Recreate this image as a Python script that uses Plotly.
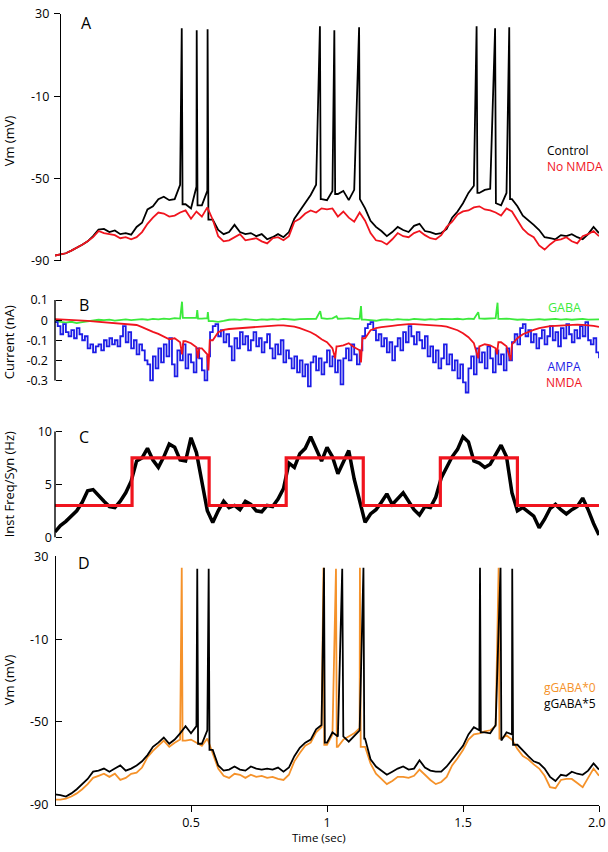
import numpy as np
import plotly.graph_objects as go

W, H = 608, 852
FONT = "Open Sans"

# ---------------- time bases ----------------
DT = 0.02
t_grid = np.round(np.arange(101) * DT, 2)        # 0 .. 2.0 s
t_fine = np.round(np.arange(201) * 0.01, 2)      # 0 .. 2.0 s

# ---------------- Panel A : Vm (mV) ----------------
vm_control = [
    -87.4, -87.0, -86.3, -85.0, -83.8, -82.2, -80.5, -78.0, -74.8, -74.5,
    -76.0, -75.2, -77.0, -76.5, -77.3, -73.5, -71.5, -65.0, -63.5, -60.0,
    -58.8, -60.5, -60.0, -53.0, -62.5, -64.5, -54.0, -63.0, -56.0, -70.0,
    -75.0, -77.0, -76.0, -72.5, -76.0, -77.0, -76.5, -78.0, -77.0, -79.5,
    -78.5, -77.0, -78.5, -76.0, -69.5, -65.5, -62.0, -58.0, -53.0, -60.0,
    -60.5, -56.0, -57.5, -56.0, -60.5, -55.5, -60.0, -64.5, -70.5, -73.5,
    -75.5, -78.0, -76.0, -73.5, -75.0, -76.0, -73.0, -72.0, -75.5, -76.0,
    -77.0, -76.5, -74.5, -69.0, -66.0, -62.0, -57.0, -53.5, -57.0, -55.5,
    -55.0, -62.0, -63.0, -57.0, -60.0, -63.5, -68.0, -70.5, -72.5, -75.0,
    -78.5, -79.0, -79.5, -77.5, -78.0, -77.0, -78.5, -79.5, -77.0, -73.5,
    -76.5]
control_spike_t = [0.466, 0.521, 0.561, 0.974, 1.027, 1.118, 1.550, 1.618, 1.670]
control_spike_v = [23.0, 22.0, 22.5, 24.0, 22.0, 23.5, 24.0, 23.0, 23.5]

vm_no_nmda = [
    -87.4, -87.0, -86.3, -85.0, -83.8, -82.2, -80.5, -78.5, -75.5, -76.5,
    -77.0, -77.5, -79.0, -78.5, -79.5, -78.5, -76.0, -72.0, -69.0, -66.5,
    -67.0, -68.5, -68.0, -66.5, -65.5, -69.5, -66.0, -68.5, -64.0, -70.0,
    -78.0, -80.5, -80.0, -78.5, -77.0, -80.0, -79.5, -79.0, -80.5, -81.5,
    -79.0, -78.5, -80.0, -78.0, -71.0, -69.5, -67.0, -65.5, -66.5, -64.5,
    -65.0, -64.5, -68.5, -66.0, -69.0, -71.0, -66.5, -70.5, -76.5, -80.0,
    -80.5, -82.0, -79.5, -76.5, -78.0, -78.5, -76.5, -75.5, -77.5, -79.0,
    -79.5, -77.5, -73.5, -71.0, -67.5, -66.0, -65.5, -64.0, -63.5, -65.0,
    -65.5, -66.5, -68.0, -64.5, -66.0, -70.5, -74.5, -77.0, -78.5, -82.5,
    -84.5, -82.0, -80.0, -79.5, -78.5, -80.5, -81.5, -78.0, -77.0, -75.5,
    -78.0]

# ---------------- Panel B : currents (nA) ----------------
gaba = [
    -0.005, -0.010, -0.012, -0.008, -0.015, -0.010, -0.005, 0.000, 0.002, 0.000,
    0.003, -0.002, 0.002, 0.004, 0.000, 0.003, 0.005, 0.002, 0.006, 0.004,
    0.008, 0.005, 0.010, 0.008, 0.012, 0.009, 0.011, 0.008, 0.010, -0.005,
    -0.008, -0.004, 0.002, 0.004, 0.001, 0.005, 0.003, 0.000, 0.004, 0.002,
    0.005, 0.003, 0.006, 0.004, 0.002, 0.005, 0.006, 0.008, 0.007, 0.010,
    0.006, 0.009, 0.007, 0.008, 0.010, 0.006, 0.008, 0.003, 0.000, -0.003,
    0.002, 0.004, 0.001, 0.005, 0.003, 0.002, 0.006, 0.004, 0.002, 0.005,
    0.003, 0.006, 0.004, 0.005, 0.007, 0.004, 0.008, 0.006, 0.009, 0.007,
    0.008, 0.010, 0.006, 0.008, 0.005, 0.002, 0.004, 0.001, 0.003, 0.005,
    0.002, 0.004, 0.006, 0.003, 0.005, 0.002, 0.004, 0.006, 0.003, 0.005,
    0.004]
gaba_peak_t = [0.467, 0.523, 0.562, 0.975, 1.035, 1.125, 1.556, 1.627]
gaba_peak_v = [0.092, 0.050, 0.040, 0.045, 0.020, 0.070, 0.040, 0.087]

ampa = [
    -0.01, -0.03, -0.07, -0.02, -0.06, -0.08, -0.05, -0.09, -0.04, -0.07,
    -0.10, -0.08, -0.14, -0.12, -0.16, -0.13, -0.12, -0.15, -0.10, -0.13,
    -0.09, -0.12, -0.10, -0.13, -0.08, -0.03, -0.11, -0.06, -0.14, -0.10,
    -0.17, -0.12, -0.15, -0.20, -0.22, -0.30, -0.18, -0.24, -0.14, -0.21,
    -0.12, -0.18, -0.09, -0.22, -0.28, -0.15, -0.20, -0.12, -0.24, -0.17,
    -0.21, -0.26, -0.14, -0.19, -0.25, -0.30, -0.18, -0.06, -0.03, -0.02,
    -0.08, -0.05, -0.11, -0.07, -0.13, -0.20, -0.09, -0.14, -0.06, -0.12,
    -0.08, -0.15, -0.10, -0.06, -0.13, -0.09, -0.16, -0.11, -0.07, -0.14,
    -0.19, -0.12, -0.17, -0.10, -0.21, -0.15, -0.19, -0.24, -0.18, -0.26,
    -0.20, -0.28, -0.22, -0.33, -0.21, -0.18, -0.25, -0.19, -0.27, -0.21,
    -0.15, -0.23, -0.18, -0.26, -0.20, -0.32, -0.19, -0.14, -0.20, -0.12,
    -0.17, -0.22, -0.15, -0.08, -0.04, -0.02, -0.01, -0.05, -0.10, -0.07,
    -0.13, -0.09, -0.16, -0.11, -0.20, -0.13, -0.09, -0.15, -0.06, -0.11,
    -0.03, -0.08, -0.12, -0.06, -0.10, -0.14, -0.08, -0.18, -0.13, -0.21,
    -0.15, -0.24, -0.19, -0.12, -0.22, -0.17, -0.25, -0.20, -0.29, -0.22,
    -0.31, -0.36, -0.24, -0.18, -0.27, -0.14, -0.21, -0.16, -0.24, -0.13,
    -0.19, -0.26, -0.15, -0.22, -0.17, -0.25, -0.14, -0.20, -0.11, -0.07,
    -0.12, -0.04, -0.02, -0.08, -0.05, -0.11, -0.07, -0.14, -0.09, -0.05,
    -0.12, -0.08, -0.03, -0.10, -0.06, -0.13, -0.04, -0.09, -0.02, -0.07,
    -0.11, -0.05, -0.09, -0.03, -0.08, -0.01, -0.10, -0.12, -0.09, -0.16,
    -0.19]

nmda = [
    0.005, 0.004, 0.003, 0.002, 0.000, -0.002, -0.004, -0.006, -0.008, -0.010,
    -0.012, -0.014, -0.016, -0.018, -0.020, -0.024, -0.035, -0.048, -0.058, -0.068,
    -0.082, -0.095, -0.090, -0.110, -0.105, -0.115, -0.135, -0.140, -0.170, -0.100,
    -0.060, -0.048, -0.044, -0.042, -0.040, -0.038, -0.036, -0.034, -0.030, -0.028,
    -0.026, -0.026, -0.026, -0.028, -0.032, -0.040, -0.050, -0.060, -0.075, -0.095,
    -0.110, -0.140, -0.130, -0.125, -0.115, -0.135, -0.150, -0.090, -0.050, -0.040,
    -0.035, -0.030, -0.028, -0.025, -0.022, -0.020, -0.020, -0.021, -0.022, -0.023,
    -0.025, -0.028, -0.032, -0.040, -0.050, -0.065, -0.085, -0.115, -0.130, -0.120,
    -0.125, -0.140, -0.110, -0.130, -0.120, -0.090, -0.070, -0.058, -0.048, -0.040,
    -0.034, -0.030, -0.028, -0.026, -0.024, -0.022, -0.022, -0.023, -0.024, -0.028,
    -0.034]
nmda_peak_t = [0.467, 0.525, 0.564, 1.030, 1.125, 1.556, 1.625, 1.675]
nmda_peak_v = [-0.17, -0.19, -0.25, -0.19, -0.21, -0.19, -0.17, -0.20]

# ---------------- Panel C : Inst Freq / Syn (Hz) ----------------
inst_freq = [
    0.5, 1.1, 1.5, 2.0, 2.5, 3.3, 4.4, 4.5, 3.9, 3.4,
    2.9, 2.8, 3.4, 4.2, 5.3, 7.2, 7.5, 8.4, 7.3, 6.6,
    7.6, 8.8, 8.5, 7.3, 7.2, 9.4, 8.0, 5.3, 2.5, 1.4,
    2.5, 3.4, 2.8, 3.0, 2.6, 3.4, 3.1, 2.5, 2.4, 3.0,
    2.9, 3.6, 4.6, 7.0, 6.6, 7.9, 8.4, 9.5, 8.4, 7.2,
    8.5, 7.6, 6.0, 7.2, 8.2, 5.5, 3.5, 1.4, 2.2, 2.6,
    3.3, 4.1, 3.1, 3.6, 4.2, 3.4, 2.6, 2.1, 2.9, 2.8,
    3.8, 5.6, 6.6, 7.6, 8.3, 9.5, 9.0, 7.2, 7.0, 6.6,
    6.9, 7.8, 8.7, 7.6, 4.2, 2.5, 2.8, 2.4, 2.0, 0.9,
    1.7, 2.7, 3.1, 2.6, 2.2, 2.6, 2.9, 3.7, 2.6, 1.3,
    0.2]
syn_step_t = [0.0, 0.2833, 0.5667, 0.85, 1.1333, 1.4167, 1.70, 2.0]
syn_step_v = [3.0, 7.5, 3.0, 7.5, 3.0, 7.5, 3.0, 3.0]

# ---------------- Panel D : Vm (mV) ----------------
vm_gaba5 = [
    -85.0, -85.3, -86.0, -84.5, -82.5, -80.0, -77.5, -74.0, -73.5, -72.5,
    -74.0, -72.5, -71.0, -73.5, -72.5, -71.0, -69.0, -66.0, -62.0, -60.0,
    -57.5, -60.5, -58.5, -55.5, -52.0, -55.5, -52.0, -60.5, -54.0, -63.5,
    -71.0, -73.5, -73.0, -71.5, -73.0, -73.5, -71.5, -72.5, -73.0, -72.5,
    -73.0, -72.0, -74.0, -72.0, -66.5, -62.5, -60.0, -58.5, -53.5, -51.5,
    -60.0, -55.0, -57.0, -57.0, -59.5, -56.5, -54.0, -58.0, -68.0, -71.5,
    -73.5, -75.5, -74.0, -72.5, -71.5, -73.0, -72.5, -68.5, -72.0, -73.5,
    -74.0, -74.0, -71.5, -68.0, -65.0, -61.5, -56.0, -52.5, -54.0, -55.0,
    -55.5, -51.5, -59.0, -55.0, -56.0, -61.0, -64.0, -66.5, -69.0, -70.0,
    -72.5, -76.5, -78.5, -75.5, -76.0, -74.0, -75.0, -75.5, -73.5, -70.0,
    -73.0]
gaba5_spike_t = [0.523, 0.565, 0.989, 1.056, 1.134, 1.5625, 1.638, 1.681]
gaba5_spike_v = [24.0, 24.0, 24.5, 24.0, 24.5, 24.5, 24.5, 24.0]

vm_gaba0 = [
    -87.5, -87.5, -87.0, -86.0, -84.5, -82.5, -80.0, -77.0, -76.0, -75.0,
    -76.5, -75.0, -78.0, -77.0, -75.0, -74.5, -72.0, -67.0, -64.0, -61.5,
    -59.0, -62.0, -60.0, -58.5, -59.0, -58.5, -60.0, -61.5, -58.0, -65.0,
    -72.5, -76.0, -77.0, -75.0, -75.5, -77.0, -75.5, -76.5, -76.0, -77.0,
    -76.5, -77.5, -78.0, -75.5, -69.0, -65.0, -61.5, -60.0, -55.0, -52.5,
    -61.0, -56.0, -62.0, -58.5, -57.0, -55.5, -53.0, -62.0, -70.0, -75.0,
    -77.5, -80.0, -78.5, -76.5, -76.5, -77.0, -76.0, -73.0, -75.5, -78.0,
    -80.0, -79.0, -76.5, -71.0, -67.5, -63.5, -58.5, -56.0, -55.5, -54.5,
    -54.0, -52.0, -58.0, -56.5, -58.5, -63.0, -66.5, -68.0, -70.5, -72.5,
    -76.0, -81.5, -82.0, -78.0, -77.5, -77.5, -79.5, -81.5, -77.0, -72.5,
    -76.0]
gaba0_spike_t = [0.466, 0.987, 1.033, 1.121, 1.631]
gaba0_spike_v = [24.5, 24.5, 24.0, 24.5, 24.5]


def with_spikes(t, v, st, sv, fall=0.003):
    """Insert each spike peak, then return to the next sampled value quickly."""
    t = np.asarray(t, float)
    v = np.asarray(v, float)
    et, ev = [], []
    for s, p in zip(st, sv):
        j = min(int(np.searchsorted(t, s)), len(t) - 1)
        et += [s, s + fall]
        ev += [p, v[j]]
    tt = np.concatenate([t, et])
    vv = np.concatenate([v, ev])
    order = np.argsort(tt, kind="stable")
    return tt[order], vv[order]


def PX(x):
    return x / W


def PY(y):
    return 1 - y / H


RED = "#f0141e"
GREEN = "#3cea3c"
BLUE = "#1c1ce6"
ORANGE = "#f5922a"

fig = go.Figure()

# Panel A
tx, vx = with_spikes(t_grid, vm_control, control_spike_t, control_spike_v)
fig.add_trace(go.Scatter(x=tx, y=vx, mode="lines", line=dict(color="black", width=1.8),
                         xaxis="x", yaxis="y", name="Control"))
fig.add_trace(go.Scatter(x=t_grid, y=vm_no_nmda, mode="lines", line=dict(color=RED, width=1.8),
                         xaxis="x", yaxis="y", name="No NMDA"))

# Panel B
tx, vx = with_spikes(t_grid, gaba, gaba_peak_t, gaba_peak_v)
fig.add_trace(go.Scatter(x=tx, y=vx, mode="lines", line=dict(color=GREEN, width=1.8),
                         xaxis="x", yaxis="y2", name="GABA"))
fig.add_trace(go.Scatter(x=t_fine, y=ampa, mode="lines", line=dict(color=BLUE, width=1.8, shape="hv"),
                         xaxis="x", yaxis="y2", name="AMPA"))
tx, vx = with_spikes(t_grid, nmda, nmda_peak_t, nmda_peak_v, fall=0.005)
fig.add_trace(go.Scatter(x=tx, y=vx, mode="lines", line=dict(color=RED, width=1.8),
                         xaxis="x", yaxis="y2", name="NMDA"))

# Panel C
fig.add_trace(go.Scatter(x=t_grid, y=inst_freq, mode="lines", line=dict(color="black", width=3.5),
                         xaxis="x", yaxis="y3", name="Inst Freq"))
fig.add_trace(go.Scatter(x=syn_step_t, y=syn_step_v, mode="lines",
                         line=dict(color=RED, width=3.2, shape="hv"),
                         xaxis="x", yaxis="y3", name="Syn"))

# Panel D
tx, vx = with_spikes(t_grid, vm_gaba0, gaba0_spike_t, gaba0_spike_v)
fig.add_trace(go.Scatter(x=tx, y=vx, mode="lines", line=dict(color=ORANGE, width=1.8),
                         xaxis="x", yaxis="y4", name="gGABA*0"))
tx, vx = with_spikes(t_grid, vm_gaba5, gaba5_spike_t, gaba5_spike_v)
fig.add_trace(go.Scatter(x=tx, y=vx, mode="lines", line=dict(color="black", width=1.8),
                         xaxis="x", yaxis="y4", name="gGABA*5"))

tickfont = dict(family=FONT, size=12.5, color="black")
common_y = dict(showgrid=False, zeroline=False, tickfont=tickfont, ticklen=6, tickwidth=1.4,
                tickcolor="black", linecolor="black", linewidth=1.4, anchor="free", tickmode="array")

fig.update_layout(
    width=W, height=H,
    margin=dict(l=0, r=0, t=0, b=0),
    paper_bgcolor="white", plot_bgcolor="white",
    showlegend=False,
    xaxis=dict(domain=[PX(55), PX(599)], range=[0, 2.0], anchor="y4",
               showgrid=False, zeroline=False, showline=True, linecolor="black", linewidth=1.4,
               ticks="outside", ticklen=6, tickwidth=1.4, tickcolor="black",
               tickmode="array", tickvals=[0.5, 1.0, 1.5, 2.0], ticktext=["0.5", "1", "1.5", ""],
               tickfont=tickfont),
    yaxis=dict(domain=[PY(257), PY(5)], range=[-90, 30], position=PX(60),
               showline=True, ticks="outside",
               tickvals=[30, -10, -50, -90], ticktext=["30", "-10", "-50", "-90"],
               ticklabelstandoff=2, **common_y),
    yaxis2=dict(domain=[PY(395.4), PY(292.9)], range=[-0.38, 0.12], position=PX(55),
                showline=False, ticks="inside",
                tickvals=[0.1, 0, -0.1, -0.2, -0.3], ticktext=["0.1", "0", "-0.1", "-0.2", "-0.3"],
                ticklabelstandoff=7, **common_y),
    yaxis3=dict(domain=[PY(543.3), PY(426.7)], range=[-0.4, 10.4], position=PX(55),
                showline=False, ticks="inside",
                tickvals=[10, 5, 0], ticktext=["10", "5", "0"],
                ticklabelstandoff=3, **common_y),
    yaxis4=dict(domain=[PY(812), PY(558.5)], range=[-90, 30], position=PX(55),
                showline=True, ticks="inside",
                tickvals=[30, -10, -50, -90], ticktext=["30", "-10", "-50", "-90"],
                ticklabelstandoff=4, **common_y),
)

# bracket axis lines for B and C
fig.add_shape(type="line", xref="paper", yref="y2", x0=PX(55), x1=PX(55), y0=0.1, y1=-0.3,
              line=dict(color="black", width=1.4))
fig.add_shape(type="line", xref="paper", yref="y3", x0=PX(55), x1=PX(55), y0=0, y1=10,
              line=dict(color="black", width=1.4))


def label(text, x, y, size=13, color="black", angle=0, xanchor="center", yanchor="middle",
          align="center"):
    fig.add_annotation(text=text, x=PX(x), y=PY(y), xref="paper", yref="paper",
                       showarrow=False, textangle=angle, xanchor=xanchor, yanchor=yanchor,
                       align=align, borderpad=0,
                       font=dict(family=FONT, size=size, color=color))


# last x tick label (kept inside the page edge)
label("2.0", 607, 830, size=12.5, xanchor="right")

# panel letters
label("A", 86, 14, size=16)
label("B", 84, 302, size=16)
label("C", 84, 437, size=16)
label("D", 84, 565, size=16)

# axis titles
label("Vm (mV)", 9, 135, size=13, angle=-90)
label("Current (nA)", 9, 340, size=13, angle=-90)
label("Inst Freq/Syn (Hz)", 9, 485, size=13, angle=-90)
label("Vm (mV)", 9, 685, size=13, angle=-90)
label("Time (sec)", 319, 845, size=11.5)

# trace labels (stacked pairs share one text block)
label("Control<br><span style='color:%s'>No NMDA</span>" % RED, 604, 153, size=12,
      xanchor="right", align="left")
label("GABA", 564, 305, size=12.5, color=GREEN)
label("<span style='color:%s'>AMPA</span><br><span style='color:%s'>NMDA</span>" % (BLUE, RED),
      564, 373, size=12)
label("<span style='color:%s'>gGABA*0</span><br>gGABA*5" % ORANGE, 543, 700, size=12,
      xanchor="left", align="left")

# the page's default body margin would shift the 608x852 figure; remove it
fig.write_html("out.html", config={"displayModeBar": False},
               post_script="document.body.style.margin='0px';document.body.style.overflow='hidden';")
